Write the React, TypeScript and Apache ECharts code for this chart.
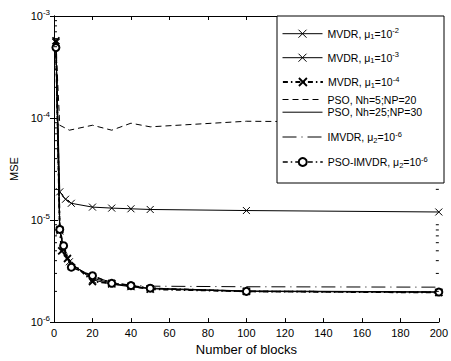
import React, { useEffect, useRef } from "react";
import * as echarts from "echarts";

const FONT = "Liberation Sans";

const xTop = [1, 3, 6, 9, 20, 30, 40, 50, 100, 200];
const xLow = [1, 3, 5, 8, 20, 30, 40, 50, 100, 200];
const xMv4 = [1, 3, 4, 7, 20, 30, 40, 50, 100, 200];
const xPsoI = [1, 3, 5, 9, 20, 30, 40, 50, 100, 200];
const xPso5 = [1, 3, 8, 20, 30, 40, 50, 100, 200];

const mvdr2 = [5.5e-4, 1.89e-5, 1.6e-5, 1.46e-5, 1.34e-5, 1.31e-5, 1.29e-5, 1.27e-5, 1.24e-5, 1.2e-5];
const mvdr3 = [5.5e-4, 7.8e-6, 5.1e-6, 3.9e-6, 2.6e-6, 2.35e-6, 2.22e-6, 2.12e-6, 2.0e-6, 1.96e-6];
const mvdr4 = [5.7e-4, 8.0e-6, 5.0e-6, 4.2e-6, 2.5e-6, 2.4e-6, 2.25e-6, 2.1e-6, 2.0e-6, 1.95e-6];
const pso5 = [5.2e-4, 8.5e-5, 7.6e-5, 8.5e-5, 7.6e-5, 8.9e-5, 8.2e-5, 9.3e-5, 9.0e-5];
const pso25 = [5.2e-4, 8.0e-6, 5.3e-6, 3.8e-6, 2.7e-6, 2.4e-6, 2.25e-6, 2.15e-6, 2.02e-6, 1.98e-6];
const imvdr = [5.0e-4, 8.2e-6, 5.5e-6, 3.7e-6, 2.8e-6, 2.45e-6, 2.3e-6, 2.25e-6, 2.22e-6, 2.2e-6];
const psoImvdr = [4.9e-4, 8.1e-6, 5.6e-6, 3.45e-6, 2.85e-6, 2.4e-6, 2.28e-6, 2.15e-6, 2.0e-6, 1.97e-6];

const decades = [1e-6, 1e-5, 1e-4];
const minorMults = [2, 3, 4, 5, 6, 7, 8, 9];
const minorTicks: number[] = [];
decades.forEach((d) => minorMults.forEach((m) => minorTicks.push(m * d)));

const names = [
  "MVDR, mu1=1e-2",
  "MVDR, mu1=1e-3",
  "MVDR, mu1=1e-4",
  "PSO, Nh=5;NP=20",
  "PSO, Nh=25;NP=30",
  "IMVDR, mu2=1e-6",
  "PSO-IMVDR, mu2=1e-6",
];
const richLabels: Record<string, string> = {
  [names[0]]: "{n|MVDR, μ}{sub|1}{n|=10}{sup|-2}",
  [names[1]]: "{n|MVDR, μ}{sub|1}{n|=10}{sup|-3}",
  [names[2]]: "{n|MVDR, μ}{sub|1}{n|=10}{sup|-4}",
  [names[3]]: "{n|PSO, Nh=5;NP=20}",
  [names[4]]: "{n|PSO, Nh=25;NP=30}",
  [names[5]]: "{n|IMVDR, μ}{sub|2}{n|=10}{sup|-6}",
  [names[6]]: "{n|PSO-IMVDR, μ}{sub|2}{n|=10}{sup|-6}",
};
const legendCenters = [31.7, 55.7, 80, 99, 111.7, 135, 160];
const noMarker = [false, false, false, true, true, true, false];
const legendLineW = [1, 1, 1.8, 1, 1, 1, 1.5];
const legendMarkW = [1, 1, 1.8, 1, 1, 1, 2];

const XMARK = "path://M0,0L10,10M10,0L0,10";

const pair = (xs: number[], ys: number[]) => xs.map((x, i) => [x, ys[i]]);

export default function App() {
  const ref = useRef<HTMLDivElement>(null);
  useEffect(() => {
    if (!ref.current) return;
    const chart = echarts.init(ref.current, null, { renderer: "svg" });
    const lineBase = (name: string, data: number[][], lineStyle: any, extra: any = {}) => ({
      name,
      type: "line",
      data,
      lineStyle: { color: "#000", width: 1, ...lineStyle },
      itemStyle: { color: "#000", borderColor: "#000", borderWidth: 1 },
      showSymbol: false,
      symbol: "none",
      z: 3,
      ...extra,
    });
    const xSym = { showSymbol: true, symbol: XMARK, symbolSize: 7 };
    const richText = {
      n: { fontSize: 10.5, fontFamily: FONT, color: "#000" },
      sub: { fontSize: 7.5, fontFamily: FONT, color: "#000", verticalAlign: "bottom", padding: [4, 0, 0, 0] },
      sup: { fontSize: 7.5, fontFamily: FONT, color: "#000", verticalAlign: "top", padding: [0, 0, 6, 0] },
    };
    const legends = names.map((nm, i) => ({
      data: [nm],
      left: 282,
      top: legendCenters[i] - 5,
      orient: "vertical",
      itemWidth: 40,
      itemHeight: 10,
      padding: 0,
      z: 60,
      selectedMode: false,
      lineStyle: { width: legendLineW[i] },
      itemStyle: noMarker[i] ? { opacity: 0 } : { borderWidth: legendMarkW[i] },
      formatter: (n: string) => richLabels[n],
      textStyle: { fontFamily: FONT, fontSize: 10.5, color: "#000", rich: richText },
    }));
    const option: any = {
      animation: false,
      backgroundColor: "#fff",
      grid: { left: 52.5, top: 16, right: 8, bottom: 37, containLabel: false },
      legend: legends,
      graphic: {
        elements: [
          {
            type: "rect",
            z: 50,
            shape: { x: 277, y: 16, width: 167, height: 167 },
            style: { fill: "#fff", stroke: "#000", lineWidth: 1 },
          },
        ],
      },
      xAxis: [
        {
          type: "value",
          min: 0,
          max: 200,
          interval: 20,
          name: "Number of blocks",
          nameLocation: "middle",
          nameGap: 18,
          nameTextStyle: { fontFamily: FONT, fontSize: 13, color: "#000" },
          axisLine: { lineStyle: { color: "#000", width: 1 } },
          axisTick: { inside: true, length: 4, lineStyle: { color: "#000" } },
          axisLabel: { fontFamily: FONT, fontSize: 11, color: "#000", margin: 5 },
          splitLine: { show: false },
        },
        {
          type: "value",
          position: "top",
          min: 0,
          max: 200,
          interval: 20,
          axisLine: { lineStyle: { color: "#000", width: 1 } },
          axisTick: { inside: true, length: 4, lineStyle: { color: "#000" } },
          axisLabel: { show: false },
          splitLine: { show: false },
        },
      ],
      yAxis: [
        {
          type: "log",
          logBase: 10,
          min: 1e-6,
          max: 1e-3,
          name: "MSE",
          nameLocation: "middle",
          nameGap: 35,
          nameRotate: 90,
          nameTextStyle: { fontFamily: FONT, fontSize: 11, color: "#000" },
          axisLine: { lineStyle: { color: "#000", width: 1 } },
          axisTick: { inside: true, length: 4, lineStyle: { color: "#000" } },
          axisLabel: {
            margin: 4,
            formatter: (v: number) => `{b|10}{s|${Math.round(Math.log10(v))}}`,
            rich: {
              b: { fontSize: 11, fontFamily: FONT, color: "#000" },
              s: { fontSize: 8, fontFamily: FONT, color: "#000", verticalAlign: "top", padding: [0, 0, 8, 0] },
            },
          },
          splitLine: { show: false },
        },
        {
          type: "log",
          logBase: 10,
          min: 1e-6,
          max: 1e-3,
          position: "right",
          axisLine: { lineStyle: { color: "#000", width: 1 } },
          axisTick: { inside: true, length: 4, lineStyle: { color: "#000" } },
          axisLabel: { show: false },
          splitLine: { show: false },
        },
      ],
      series: [
        lineBase(names[0], pair(xTop, mvdr2), { type: "solid" }, xSym),
        lineBase(names[1], pair(xLow, mvdr3), { type: "solid" }, xSym),
        lineBase(names[2], pair(xMv4, mvdr4), { type: [5, 3, 1.5, 3], width: 1.8 }, {
          ...xSym,
          itemStyle: { color: "#000", borderColor: "#000", borderWidth: 1.8 },
        }),
        lineBase(names[3], pair(xPso5, pso5), { type: [6, 4] }),
        lineBase(names[4], pair(xLow, pso25), { type: "solid" }),
        lineBase(names[5], pair(xLow, imvdr), { type: [14, 5, 1, 5] }),
        lineBase(names[6], pair(xPsoI, psoImvdr), { type: [5, 3, 1.5, 3], width: 1.5 }, {
          showSymbol: true,
          symbol: "emptyCircle",
          symbolSize: 7,
          itemStyle: { color: "#000", borderColor: "#000", borderWidth: 2 },
        }),
        {
          type: "custom",
          silent: true,
          z: 4,
          data: minorTicks.map((v) => [0, v]),
          renderItem: (params: any, api: any) => {
            const v = api.value(1);
            const l = api.coord([0, v]);
            const r = api.coord([200, v]);
            return {
              type: "group",
              children: [
                { type: "line", shape: { x1: l[0], y1: l[1], x2: l[0] + 3, y2: l[1] }, style: { stroke: "#000", lineWidth: 1 } },
                { type: "line", shape: { x1: r[0] - 3, y1: r[1], x2: r[0], y2: r[1] }, style: { stroke: "#000", lineWidth: 1 } },
              ],
            };
          },
        },
      ],
    };
    chart.setOption(option);
    return () => chart.dispose();
  }, []);
  return <div ref={ref} style={{ width: 451, height: 361, position: "absolute", left: 0, top: 0 }} />;
}
